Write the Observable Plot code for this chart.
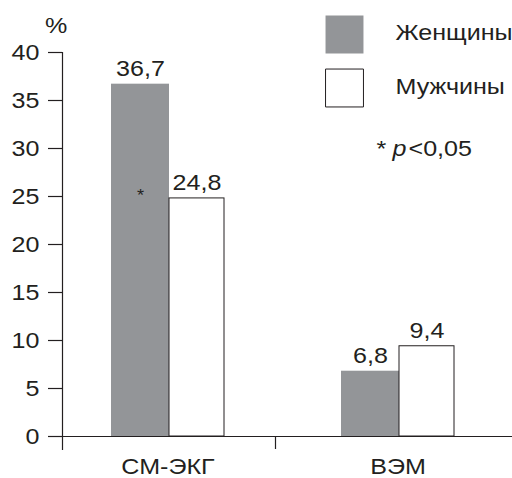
<!DOCTYPE html>
<html>
<head>
<meta charset="utf-8">
<script src="https://cdn.jsdelivr.net/npm/d3@7"></script>
<script src="https://cdn.jsdelivr.net/npm/@observablehq/plot@0.6"></script>
<style>
  html, body { margin: 0; padding: 0; background: #fff; }
</style>
</head>
<body>
<div id="chart"></div>
<script>
// ---- data ----
const categories = ["СМ-ЭКГ", "ВЭМ"];
const groups = ["Женщины", "Мужчины"];
const women = [36.7, 6.8];
const men = [24.8, 9.4];
const yTicks = [0, 5, 10, 15, 20, 25, 30, 35, 40];
const yUnit = "%";
const noteParts = ["*", "p", "<0,05"];
const significance = [{category: "СМ-ЭКГ", level: 24.8, mark: "*"}];

// ---- tables built from the arrays ----
const womenRows = categories.map((c, i) => ({category: c, group: groups[0], value: women[i]}));
const menRows = categories.map((c, i) => ({category: c, group: groups[1], value: men[i]}));
const fmt = v => String(v).replace(".", ",");

const ink = "#231f20";
const grey = "#939598";
const font = "'Liberation Sans', Arial, Helvetica, sans-serif";

const chart = Plot.plot({
  width: 512,
  height: 478,
  marginLeft: 62,
  marginRight: 0,
  marginTop: 52,
  marginBottom: 42,
  style: {fontFamily: font, fontSize: "22px", color: ink, background: "#fff", overflow: "visible"},
  x: {domain: categories, range: [62, 503], paddingInner: 0.5087, paddingOuter: 0.213, axis: null},
  y: {domain: [0, 40], axis: null},
  marks: [
    Plot.barY(womenRows, {x: "category", y: "value", fill: grey, insetRight: 55}),
    Plot.barY(menRows, {x: "category", y: "value", fill: "#fff", stroke: ink, strokeWidth: 1, insetLeft: 58}),
    Plot.ruleY([0], {stroke: ink, strokeWidth: 1.2}),
    Plot.frame({anchor: "left", stroke: ink, strokeWidth: 1.2, insetBottom: -13}),
    Plot.ruleX([categories[1]], {stroke: ink, strokeWidth: 1.2, dx: -122.5, insetTop: 384, insetBottom: -13}),
    Plot.axisY({ticks: yTicks, tickSize: 14, tickPadding: 9, fontSize: 22, stroke: ink, strokeWidth: 1.2, tickFormat: d => String(d), label: null}),
    Plot.axisX({tickSize: 0, tickPadding: 22, fontSize: 22, label: null}),
    // value labels
    Plot.text(womenRows, {x: "category", y: "value", text: d => fmt(d.value), dx: -27.5, dy: -8, lineAnchor: "bottom", fontSize: 22, fill: ink}),
    Plot.text(menRows, {x: "category", y: "value", text: d => fmt(d.value), dx: 29, dy: -8, lineAnchor: "bottom", fontSize: 22, fill: ink}),
    // significance asterisk inside the women bar
    Plot.text(significance, {x: "category", y: "level", text: "mark", dx: -27.5, dy: -3, lineAnchor: "middle", fontSize: 16, fill: ink}),
    // unit label
    Plot.text([yUnit], {frameAnchor: "top-left", dx: -6.3, dy: -27, textAnchor: "middle", lineAnchor: "middle", fontSize: 22, fill: ink}),
    // legend
    Plot.dot([groups[0]], {frameAnchor: "top-left", dx: 282, dy: -18, symbol: "square", r: 21.4, fill: grey}),
    Plot.dot([groups[1]], {frameAnchor: "top-left", dx: 282, dy: 35.5, symbol: "square", r: 21.4, fill: "#fff", stroke: ink, strokeWidth: 1}),
    Plot.text([groups[0]], {frameAnchor: "top-left", dx: 333, dy: -20, textAnchor: "start", lineAnchor: "middle", fontSize: 22, fill: ink}),
    Plot.text([groups[1]], {frameAnchor: "top-left", dx: 333, dy: 34, textAnchor: "start", lineAnchor: "middle", fontSize: 22, fill: ink}),
    Plot.text([noteParts[0]], {frameAnchor: "top-left", dx: 314, dy: 96, textAnchor: "start", lineAnchor: "middle", fontSize: 22, fill: ink}),
    Plot.text([noteParts[1]], {frameAnchor: "top-left", dx: 330, dy: 96, textAnchor: "start", lineAnchor: "middle", fontSize: 22, fontStyle: "italic", fill: ink}),
    Plot.text([noteParts[2]], {frameAnchor: "top-left", dx: 346, dy: 96, textAnchor: "start", lineAnchor: "middle", fontSize: 22, fill: ink})
  ]
});

// the reference typeface is a little wider than Arial: stretch glyphs horizontally about their anchors
chart.querySelectorAll("text").forEach(t => {
  const tr = t.getAttribute("transform");
  if (tr) {
    t.setAttribute("transform", tr + " scale(1.14,1)");
  } else {
    const x = +(t.getAttribute("x") || 0);
    t.setAttribute("transform", `translate(${x},0) scale(1.14,1) translate(${-x},0)`);
  }
});

document.getElementById("chart").appendChild(chart);
</script>
</body>
</html>
